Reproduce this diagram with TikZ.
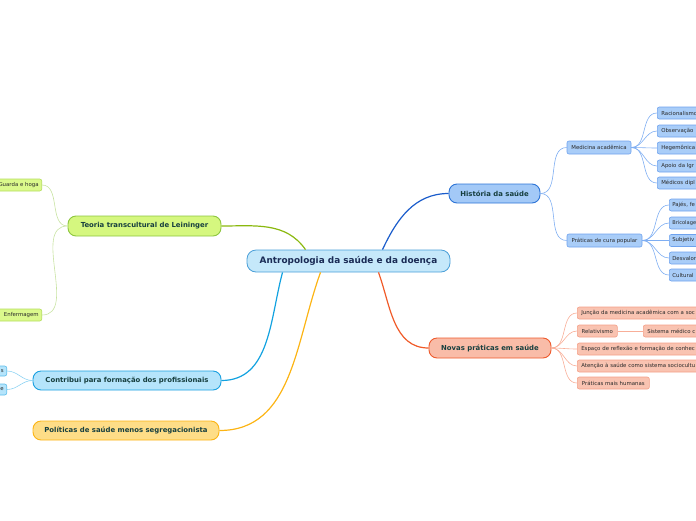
\documentclass[tikz,border=0pt]{standalone}
\usepackage{fontspec}
\setmainfont{DejaVu Sans}
\definecolor{centerfill}{HTML}{C5E8FA}
\definecolor{centerdraw}{HTML}{4A9FD8}
\definecolor{centertext}{HTML}{1A2B55}
\definecolor{maintext}{HTML}{173F3F}
\definecolor{subtext}{HTML}{2A2A2A}
\definecolor{histfill}{HTML}{A3C9F7}
\definecolor{histdraw}{HTML}{2D74D6}
\definecolor{histline}{HTML}{1A5CCB}
\definecolor{histsubfill}{HTML}{A9CDF8}
\definecolor{histsubdraw}{HTML}{6EA2EE}
\definecolor{histsubline}{HTML}{7FAEF2}
\definecolor{novfill}{HTML}{F9BCA8}
\definecolor{novdraw}{HTML}{EE5A2C}
\definecolor{novline}{HTML}{F05A28}
\definecolor{novsubfill}{HTML}{F9C3B1}
\definecolor{novsubdraw}{HTML}{F4A088}
\definecolor{novsubline}{HTML}{F8AE98}
\definecolor{teofill}{HTML}{D5F77F}
\definecolor{teodraw}{HTML}{8DC63F}
\definecolor{teoline}{HTML}{8AB80E}
\definecolor{teosubfill}{HTML}{DBF98C}
\definecolor{teosubdraw}{HTML}{B4DE5C}
\definecolor{teosubline}{HTML}{C8E3A2}
\definecolor{confill}{HTML}{B5E4FB}
\definecolor{condraw}{HTML}{1AA0E0}
\definecolor{conline}{HTML}{12A2E0}
\definecolor{consubdraw}{HTML}{5DBDEB}
\definecolor{consubline}{HTML}{8DD3F3}
\definecolor{polfill}{HTML}{FEDD87}
\definecolor{poldraw}{HTML}{FCB414}
\definecolor{polline}{HTML}{FCB414}
\begin{document}
\begin{tikzpicture}[x=1pt,y=-1pt,
  centerbox/.style={rounded corners=9pt, draw=centerdraw, fill=centerfill, line width=0.8pt,
    minimum width=203pt, minimum height=22pt, inner sep=0pt, text=centertext,
    font=\fontsize{8.9}{10}\selectfont\bfseries},
  mainbox/.style={rounded corners=8pt, line width=0.9pt, minimum height=19pt, inner sep=0pt,
    text=maintext, font=\fontsize{6.9}{8}\selectfont\bfseries},
  subbox/.style={rounded corners=2pt, line width=0.6pt, minimum height=12pt, inner sep=0pt,
    text=subtext, font=\fontsize{5.4}{6.5}\selectfont},
  rclip/.style={subbox, anchor=west, inner xsep=4pt, text width=80pt, align=left},
  lclip/.style={subbox, anchor=east, inner xsep=3pt, text width=60pt, align=right},
  hsub/.style={subbox, draw=histsubdraw, fill=histsubfill},
  nsub/.style={subbox, draw=novsubdraw, fill=novsubfill},
  tsub/.style={subbox, draw=teosubdraw, fill=teosubfill},
  csub/.style={subbox, draw=consubdraw, fill=confill},
  mainline/.style={line width=1.2pt},
  subline/.style={line width=0.6pt}
]
\useasboundingbox (0,0) rectangle (696,520);

% central node
\node[centerbox] (c) at (348.5,261) {Antropologia da saúde e da doença};

% main nodes
\node[mainbox, draw=histdraw, fill=histfill, minimum width=91pt] (h) at (494.5,193.5) {História da saúde};
\node[mainbox, draw=novdraw, fill=novfill, minimum width=122pt, minimum height=20pt] (n) at (490,348) {Novas práticas em saúde};
\node[mainbox, draw=teodraw, fill=teofill, minimum width=153pt, minimum height=20pt] (t) at (144.5,226) {Teoria transcultural de Leininger};
\node[mainbox, draw=condraw, fill=confill, minimum width=188pt] (k) at (127,380.5) {Contribui para formação dos profissionais};
\node[mainbox, draw=poldraw, fill=polfill, minimum width=186pt] (p) at (126,430.5) {Políticas de saúde menos segregacionista};

% main connectors
\draw[mainline, histline] ([xshift=34pt]c.north) to[out=65,in=180] (h.west);
\draw[mainline, novline] ([xshift=30pt]c.south) to[out=-70,in=180] (n.west);
\draw[mainline, teoline] (t.east) to[out=0,in=125] ([xshift=-43pt]c.north);
\draw[mainline, conline] ([xshift=-66pt]c.south) to[out=-105,in=0] (k.east);
\draw[mainline, polline] ([xshift=-28pt]c.south) to[out=-110,in=0] (p.east);

% Historia subtree
\node[hsub, minimum width=64pt, minimum height=13pt] (ma) at (599,147.5) {Medicina acadêmica};
\node[hsub, minimum width=75pt, minimum height=13pt] (pc) at (604.5,240.5) {Práticas de cura popular};
\draw[subline, histsubline] (h.east) to[out=0,in=180] (ma.west);
\draw[subline, histsubline] (h.east) to[out=0,in=180] (pc.west);

\node[hsub, rclip] (ma1) at (657,113) {Racionalismo};
\node[hsub, rclip] (ma2) at (657,131) {Observação};
\node[hsub, rclip] (ma3) at (657,148) {Hegemônica};
\node[hsub, rclip] (ma4) at (657,166) {Apoio da Igr};
\node[hsub, rclip] (ma5) at (657,183) {Médicos dipl};
\foreach \i in {1,...,5} \draw[subline, histsubline] (ma.east) to[out=0,in=180] (ma\i.west);

\node[hsub, rclip, inner xsep=3pt] (pc1) at (669,205) {Pajés, fe};
\node[hsub, rclip, inner xsep=3pt, font=\fontsize{5.1}{6.5}\selectfont] (pc2) at (669,223) {Bricolage};
\node[hsub, rclip, inner xsep=3pt] (pc3) at (669,240.5) {Subjetiv};
\node[hsub, rclip, inner xsep=3pt] (pc4) at (669,258) {Desvalor};
\node[hsub, rclip, inner xsep=3pt] (pc5) at (669,275) {Cultural};
\foreach \i in {1,...,5} \draw[subline, histsubline] (pc.east) to[out=0,in=180] (pc\i.west);

% Novas praticas subtree
\node[nsub, rclip, text width=140pt] (n1) at (577,313) {Junção da medicina acadêmica com a soc};
\node[nsub, minimum width=40pt, anchor=west] (n2) at (577,331) {Relativismo};
\node[nsub, rclip] (n2a) at (643,331) {Sistema médico c};
\node[nsub, rclip, text width=140pt] (n3) at (577,349) {Espaço de reflexão e formação de conhec};
\node[nsub, rclip, text width=140pt] (n4) at (577,366) {Atenção à saúde como sistema sociocultu};
\node[nsub, minimum width=72pt, anchor=west] (n5) at (577,383) {Práticas mais humanas};
\foreach \i in {1,...,5} \draw[subline, novsubline] (n.east) to[out=0,in=180] (n\i.west);
\draw[subline, novsubline] (n2.east) -- (n2a.west);

% Teoria subtree
\node[tsub, lclip] (t1) at (42,185) {Guarda e hoga};
\node[tsub, lclip] (t2) at (42,315) {Enfermagem};
\draw[subline, teosubline] (t.west) to[out=180,in=0] (t1.east);
\draw[subline, teosubline] (t.west) to[out=180,in=0] (t2.east);

% Contribui subtree
\node[csub, lclip, minimum height=10pt] (k1) at (7,371) {s};
\node[csub, lclip, minimum height=11pt] (k2) at (7,389.5) {e};
\draw[subline, consubline] (k.west) to[out=180,in=0] (k1.east);
\draw[subline, consubline] (k.west) to[out=180,in=0] (k2.east);
\end{tikzpicture}
\end{document}
